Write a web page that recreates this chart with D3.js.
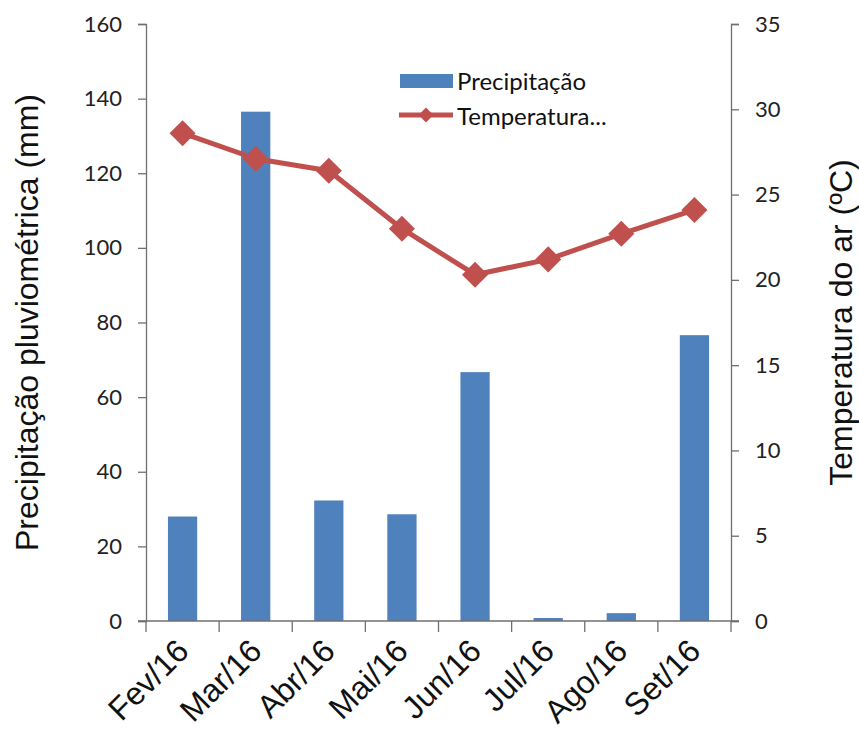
<!DOCTYPE html>
<html>
<head>
<meta charset="utf-8">
<script src="https://cdn.jsdelivr.net/npm/d3@7"></script>
<style>
  html, body { margin: 0; padding: 0; background: #fff; }
  svg { display: block; }
</style>
</head>
<body>
<svg id="chart" width="859" height="731"></svg>
<script>
// ---- data ----
const months = ["Fev/16", "Mar/16", "Abr/16", "Mai/16", "Jun/16", "Jul/16", "Ago/16", "Set/16"];
const precipitation = [28.0, 136.5, 32.3, 28.6, 66.7, 0.8, 2.1, 76.6];
const temperature = [28.6, 27.1, 26.4, 23.0, 20.3, 21.2, 22.7, 24.1];
const leftTicks = [0, 20, 40, 60, 80, 100, 120, 140, 160];
const rightTicks = [0, 5, 10, 15, 20, 25, 30, 35];
const seriesNames = ["Precipitação", "Temperatura..."];
const leftTitle = "Precipitação pluviométrica (mm)";
const rightTitle = "Temperatura do ar (ºC)";

const barColor = "#4F81BD";
const lineColor = "#C0504D";
const axisColor = "#6f6f6f";
const tickFont = "Lato, 'Open Sans', sans-serif";
const titleFont = "'Liberation Sans', Arial, sans-serif";

const svg = d3.select("#chart");
const L = 146, R = 731, T = 24, B = 621;

const x = d3.scaleBand().domain(months).range([L, R]).paddingInner(0.6).paddingOuter(0.3);
const yL = d3.scaleLinear().domain([0, 160]).range([B, T]);
const yR = d3.scaleLinear().domain([0, 35]).range([B, T]);

// bars
svg.append("g").selectAll("rect").data(months).join("rect")
  .attr("x", d => x(d))
  .attr("y", (d, i) => yL(precipitation[i]))
  .attr("width", x.bandwidth())
  .attr("height", (d, i) => B - yL(precipitation[i]))
  .attr("fill", barColor);

// left axis
const gL = svg.append("g").attr("transform", `translate(${L},0)`)
  .call(d3.axisLeft(yL).tickValues(leftTicks).tickSize(8).tickPadding(16));
// right axis
const gR = svg.append("g").attr("transform", `translate(${R},0)`)
  .call(d3.axisRight(yR).tickValues(rightTicks).tickSize(8).tickPadding(16));
[gL, gR].forEach(g => {
  g.select(".domain").attr("stroke", axisColor).attr("stroke-width", 1.3);
  g.selectAll(".tick line").attr("stroke", axisColor).attr("stroke-width", 1.3);
  g.selectAll(".tick text").attr("font-family", tickFont).attr("font-size", 22).attr("fill", "#222");
});

// x axis: ticks at category boundaries
const step = x.step();
const boundaries = d3.range(months.length + 1).map(i => L + i * step);
const gX = svg.append("g");
gX.append("line").attr("x1", L - 8).attr("x2", R + 8).attr("y1", B).attr("y2", B)
  .attr("stroke", axisColor).attr("stroke-width", 1.3);
gX.selectAll("line.tk").data(boundaries).join("line").attr("class", "tk")
  .attr("x1", d => d).attr("x2", d => d).attr("y1", B).attr("y2", B + 11)
  .attr("stroke", axisColor).attr("stroke-width", 1.3);
gX.selectAll("text").data(months).join("text")
  .attr("transform", d => `translate(${x(d) + x.bandwidth() / 2 + 8},${B + 32}) rotate(-45)`)
  .attr("text-anchor", "end")
  .attr("font-family", titleFont).attr("font-size", 32).attr("fill", "#111")
  .text(d => d);

// temperature line
const cx = d => x(d) + x.bandwidth() / 2;
svg.append("path")
  .datum(months)
  .attr("fill", "none").attr("stroke", lineColor).attr("stroke-width", 5).attr("stroke-linejoin", "round")
  .attr("d", d3.line().x(cx).y((d, i) => yR(temperature[i])));
const diamond = d3.symbol().type(d3.symbolSquare).size(340);
svg.append("g").selectAll("path").data(months).join("path")
  .attr("transform", (d, i) => `translate(${cx(d)},${yR(temperature[i])}) rotate(45)`)
  .attr("d", diamond())
  .attr("fill", lineColor);

// axis titles
svg.append("text")
  .attr("transform", `translate(38,${(T + B) / 2}) rotate(-90)`)
  .attr("text-anchor", "middle")
  .attr("font-family", titleFont).attr("font-size", 32).attr("fill", "#111")
  .text(leftTitle);
svg.append("text")
  .attr("transform", `translate(852,${(T + B) / 2}) rotate(-90)`)
  .attr("text-anchor", "middle")
  .attr("font-family", titleFont).attr("font-size", 32).attr("fill", "#111")
  .text(rightTitle);

// legend
const lg = svg.append("g");
lg.append("rect").attr("x", 400).attr("y", 74).attr("width", 53).attr("height", 14).attr("fill", barColor);
lg.append("line").attr("x1", 399).attr("x2", 453).attr("y1", 115).attr("y2", 115)
  .attr("stroke", lineColor).attr("stroke-width", 5);
lg.append("path").attr("transform", "translate(426,115) rotate(45)")
  .attr("d", d3.symbol().type(d3.symbolSquare).size(110)()).attr("fill", lineColor);
lg.selectAll("text").data(seriesNames).join("text")
  .attr("x", 457).attr("y", (d, i) => 80 + i * 35)
  .attr("dominant-baseline", "central")
  .attr("font-family", tickFont).attr("font-size", 24).attr("fill", "#111")
  .text(d => d);
</script>
</body>
</html>
